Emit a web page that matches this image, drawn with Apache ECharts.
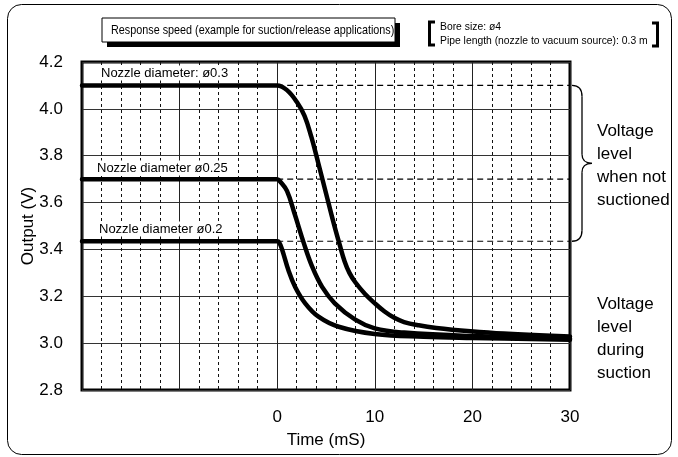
<!DOCTYPE html>
<html><head><meta charset="utf-8">
<script src="https://cdn.jsdelivr.net/npm/echarts@6/dist/echarts.min.js"></script>
<style>html,body{margin:0;padding:0;background:#fff}#c{width:678px;height:457px}</style>
</head><body><div id="c"></div>
<script>
// ---- data ----
const seriesNames = ['Nozzle diameter: ø0.3', 'Nozzle diameter ø0.25', 'Nozzle diameter ø0.2'];
const levelNotSuctioned = [4.10, 3.70, 3.435];
const levelDuringSuction = 3.02;
const xTickLabels = ['0', '10', '20', '30'];
const yTickLabels = ['2.8', '3.0', '3.2', '3.4', '3.6', '3.8', '4.0', '4.2'];

const d03Time = [-20, -0.5, 0, 1, 2, 2.8, 3.5, 4.2, 5, 5.8, 6.4, 6.9, 7.4, 8, 9, 10, 11, 12, 13, 14.5, 16.3, 19.8, 23.2, 30];
const d03Volt = [4.10, 4.10, 4.10, 4.08, 4.03, 3.97, 3.88, 3.77, 3.64, 3.51, 3.42, 3.35, 3.30, 3.26, 3.21, 3.17, 3.135, 3.108, 3.09, 3.076, 3.065, 3.051, 3.041, 3.028];

const d025Time = [-20, -0.5, 0, 0.3, 1.0, 1.8, 2.7, 3.55, 4.6, 5.9, 8, 10, 13, 20, 30];
const d025Volt = [3.70, 3.70, 3.70, 3.69, 3.65, 3.55, 3.43, 3.33, 3.24, 3.17, 3.10, 3.063, 3.045, 3.03, 3.02];

const d02Time = [-20, -0.5, 0, 0.2, 0.5, 1.16, 1.84, 2.87, 4.23, 6.3, 10, 15, 20, 30];
const d02Volt = [3.435, 3.435, 3.435, 3.43, 3.40, 3.31, 3.24, 3.17, 3.113, 3.07, 3.039, 3.027, 3.022, 3.015];

const zip = (xs, ys) => xs.map((x, i) => [x, ys[i]]);
const FONT = '"Liberation Sans", Arial, sans-serif';

const chart = echarts.init(document.getElementById('c'), null, {renderer: 'canvas'});

const curveSeries = [
  zip(d03Time, d03Volt), zip(d025Time, d025Volt), zip(d02Time, d02Volt)
].map((data, i) => ({
  name: seriesNames[i], type: 'line', data, smooth: 0.4,
  symbol: 'none', silent: true, z: 5,
  lineStyle: {color: '#000', width: 4.5, cap: 'round', join: 'round'}
}));

const levelSeries = levelNotSuctioned.map(v => ({
  type: 'line', data: [[0, v], [30, v]], symbol: 'none', silent: true, z: 3,
  lineStyle: {color: '#000', width: 1.2, type: [6, 4]}
}));
levelSeries.push({
  type: 'line', data: [[30, levelDuringSuction], [32.7, levelDuringSuction]], symbol: 'none',
  silent: true, z: 3, clip: false,
  lineStyle: {color: '#000', width: 1.2, type: [6, 4]}
});

chart.setOption({
  animation: false,
  backgroundColor: '#fff',
  grid: {left: 82, right: 108, top: 62, bottom: 67, show: true, borderColor: '#000', borderWidth: 3, backgroundColor: 'transparent'},
  xAxis: {
    type: 'value', min: -20, max: 30, interval: 10,
    name: 'Time (mS)', nameLocation: 'middle', nameGap: 42,
    nameTextStyle: {fontFamily: FONT, fontSize: 17, color: '#000'},
    axisLine: {show: false}, axisTick: {show: false},
    axisLabel: {fontFamily: FONT, fontSize: 17, color: '#000', margin: 19,
      formatter: v => xTickLabels.includes(String(v)) ? String(v) : ''},
    splitLine: {show: true, lineStyle: {color: '#222', width: 1}},
    minorTick: {show: false, splitNumber: 5},
    minorSplitLine: {show: true, lineStyle: {color: '#111', width: 1, type: [3, 3]}}
  },
  yAxis: {
    type: 'value', min: 2.8, max: 4.2, interval: 0.2,
    name: 'Output (V)', nameLocation: 'middle', nameGap: 45, nameRotate: 90, nameMoveOverlap: false,
    nameTextStyle: {fontFamily: FONT, fontSize: 17, color: '#000'},
    axisLine: {show: false}, axisTick: {show: false},
    axisLabel: {fontFamily: FONT, fontSize: 17, color: '#000', margin: 19,
      formatter: v => { const s = v.toFixed(1); return yTickLabels.includes(s) ? s : ''; }},
    splitLine: {show: true, lineStyle: {color: '#333', width: 1}}
  },
  series: levelSeries.concat(curveSeries)
});

// ---- annotations ----
const py = v => chart.convertToPixel({gridIndex: 0}, [0, v])[1];
const px = t => chart.convertToPixel({gridIndex: 0}, [t, 3])[0];
const yTop = py(levelNotSuctioned[0]);
const yBot = py(levelNotSuctioned[2]);
const yMid = (yTop + yBot) / 2;
const xb = px(30) + 2;
const xv = xb + 10, xt = xb + 20;
const braceStyle = {fill: 'none', stroke: '#000', lineWidth: 1.3};
const bz = (x1, y1, cx, cy, x2, y2) => ({type: 'bezierCurve', silent: true, z: 20,
  shape: {x1, y1, cpx1: cx, cpy1: cy, x2, y2}, style: braceStyle});
const ln = (x1, y1, x2, y2) => ({type: 'line', silent: true, z: 20, shape: {x1, y1, x2, y2}, style: braceStyle});

const txt = (text, x, y, size, opts = {}) => Object.assign({
  type: 'text', x, y, silent: true, z: 20,
  style: Object.assign({text, font: `${size}px ${FONT}`, fill: '#000',
    align: 'left', verticalAlign: 'middle', textAlign: 'left', textVerticalAlign: 'middle'}, opts.style || {})
}, opts.el || {});

chart.setOption({
  graphic: [
    {type: 'rect', shape: {x: 7.5, y: 4.5, width: 664, height: 450, r: 14}, silent: true, z: 1,
      style: {fill: 'none', stroke: '#000', lineWidth: 1}},
    // title box with shadow
    {type: 'rect', shape: {x: 107, y: 23, width: 293, height: 24}, silent: true, z: 18, style: {fill: '#000'}},
    {type: 'rect', shape: {x: 102, y: 18, width: 293, height: 24}, silent: true, z: 19, style: {fill: '#fff', stroke: '#000', lineWidth: 1}},
    txt('Response speed (example for suction/release applications)', 111, 30.5, 13.5, {el: {scaleX: 0.8}}),
    // condition bracket
    {type: 'polyline', shape: {points: [[435, 22], [429.5, 22], [429.5, 45], [435, 45]]}, silent: true, z: 20,
      style: {fill: 'none', stroke: '#000', lineWidth: 3}},
    {type: 'polyline', shape: {points: [[652, 23], [657.5, 23], [657.5, 46], [652, 46]]}, silent: true, z: 20,
      style: {fill: 'none', stroke: '#000', lineWidth: 3}},
    txt('Bore size: ø4', 440, 26.5, 11.5, {el: {scaleX: 0.9}}),
    txt('Pipe length (nozzle to vacuum source): 0.3 m', 440, 40.5, 11.5, {el: {scaleX: 0.9}}),
    // nozzle labels
    txt(seriesNames[0], 99, 73, 13, {style: {backgroundColor: '#fff', padding: [1, 2]}}),
    txt(seriesNames[1], 95, 168, 13, {style: {backgroundColor: '#fff', padding: [1, 2]}}),
    txt(seriesNames[2], 97, 229, 13, {style: {backgroundColor: '#fff', padding: [1, 2]}}),
    // brace
    bz(xb, yTop, xv, yTop, xv, yTop + 11),
    ln(xv, yTop + 11, xv, yMid - 9),
    bz(xv, yMid - 9, xv, yMid, xt, yMid),
    bz(xt, yMid, xv, yMid, xv, yMid + 9),
    ln(xv, yMid + 9, xv, yBot - 11),
    bz(xv, yBot - 11, xv, yBot, xb, yBot),
    txt('Voltage\nlevel\nwhen not\nsuctioned', 597, 166, 17, {style: {lineHeight: 23}}),
    txt('Voltage\nlevel\nduring\nsuction', 597, 339, 17, {style: {lineHeight: 23}})
  ]
});
</script>
</body></html>
